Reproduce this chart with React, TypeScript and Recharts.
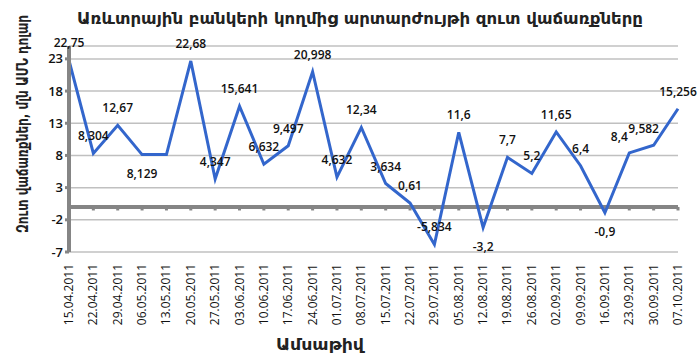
import { LineChart, Line, XAxis, YAxis, CartesianGrid, ReferenceLine, LabelList } from 'recharts';

const dates = [
  '15.04.2011', '22.04.2011', '29.04.2011', '06.05.2011', '13.05.2011', '20.05.2011',
  '27.05.2011', '03.06.2011', '10.06.2011', '17.06.2011', '24.06.2011', '01.07.2011',
  '08.07.2011', '15.07.2011', '22.07.2011', '29.07.2011', '05.08.2011', '12.08.2011',
  '19.08.2011', '26.08.2011', '02.09.2011', '09.09.2011', '16.09.2011', '23.09.2011',
  '30.09.2011', '07.10.2011',
];

const netSales = [
  22.75, 8.304, 12.67, 8.129, 8.13, 22.68, 4.347, 15.641, 6.632, 9.497, 20.998, 4.632,
  12.34, 3.634, 0.61, -5.834, 11.6, -3.2, 7.7, 5.2, 11.65, 6.4, -0.9, 8.4, 9.582, 15.256,
];

// where each value label sits relative to its point
const labelPos = [
  'top', 'top', 'top', 'bottom', 'none', 'top', 'top', 'top', 'top', 'top', 'top', 'top',
  'top', 'top', 'top', 'top', 'top', 'bottom', 'top', 'top', 'top', 'top', 'bottom', 'left',
  'left', 'top',
];

const yTicks = [-7, -2, 3, 8, 13, 18, 23];

const data = dates.map((d, i) => ({ date: d, value: netSales[i], pos: labelPos[i] }));

const FONT = '"Open Sans", "DejaVu Sans", sans-serif';
const ARM = '"DejaVu Sans", sans-serif';

const ValueLabel = (props: any) => {
  const { x, y, value, index } = props;
  const pos = labelPos[index];
  if (pos === 'none') return null;
  let tx = x;
  let ty = y - 13;
  if (pos === 'bottom') ty = y + 23;
  if (pos === 'left') {
    tx = x - 10;
    ty = y - 12;
  }
  return (
    <text x={tx} y={ty} textAnchor="middle" fontSize={12} fontWeight={600} fontFamily={FONT} fill="#111">
      {String(value).replace('.', ',')}
    </text>
  );
};

const DateTick = (props: any) => {
  const { x, y, payload } = props;
  return (
    <text
      x={x + 4}
      y={y}
      transform={`rotate(-90, ${x + 4}, ${y})`}
      textAnchor="end"
      fontSize={12}
      fontFamily={FONT}
      fill="#111"
    >
      {payload.value}
    </text>
  );
};

const App = () => {
  return (
    <div style={{ position: 'relative', width: 700, height: 358, background: '#fff' }}>
      <style>{'body{margin:0}'}</style>
      <svg width={700} height={358} style={{ position: 'absolute', left: 0, top: 0 }}>
        <text
          x={360}
          y={24}
          textAnchor="middle"
          fontFamily={ARM}
          fontWeight="bold"
          fontSize={16}
          fill="#222"
          textLength={566}
          lengthAdjust="spacingAndGlyphs"
        >
          Առևտրային բանկերի կողմից արտարժույթի զուտ վաճառքները
        </text>
        <text
          x={0}
          y={0}
          transform="translate(28, 124) rotate(-90)"
          textAnchor="middle"
          fontFamily={ARM}
          fontWeight="bold"
          fontSize={16}
          fill="#222"
          textLength={218}
          lengthAdjust="spacingAndGlyphs"
        >
          Զուտ վաճառքներ, մլն ԱՄՆ դոլար
        </text>
        <text
          x={320}
          y={350}
          textAnchor="middle"
          fontFamily={ARM}
          fontWeight="bold"
          fontSize={16}
          fill="#222"
          textLength={88}
          lengthAdjust="spacingAndGlyphs"
        >
          Ամսաթիվ
        </text>
      </svg>
      <LineChart
        width={700}
        height={358}
        data={data}
        margin={{ top: 46, right: 22, bottom: 0, left: 0 }}
        style={{ position: 'absolute', left: 0, top: 0 }}
      >
        <CartesianGrid vertical={false} stroke="#c0c0c0" strokeWidth={1.5} />
        <XAxis
          dataKey="date"
          axisLine={false}
          tickLine={false}
          interval={0}
          height={106}
          tick={<DateTick />}
          tickMargin={6}
        />
        <YAxis
          domain={[-7, 25]}
          ticks={yTicks}
          width={69}
          axisLine={{ stroke: '#858585', strokeWidth: 4 }}
          tickLine={{ stroke: '#858585', strokeWidth: 3 }}
          tickSize={4}
          tick={{ fontSize: 13, fontWeight: 600, fontFamily: FONT, fill: '#111' }}
        />
        <ReferenceLine y={0} stroke="#858585" strokeWidth={4} />
        {dates.slice(1).map((d) => (
          <ReferenceLine
            key={d}
            segment={[{ x: d, y: 0 }, { x: d, y: -0.55 }]}
            stroke="#858585"
            strokeWidth={3}
          />
        ))}
        <Line
          type="linear"
          dataKey="value"
          stroke="#3366cc"
          strokeWidth={3}
          dot={false}
          isAnimationActive={false}
        >
          <LabelList dataKey="value" content={<ValueLabel />} />
        </Line>
      </LineChart>
    </div>
  );
};

export default App;
